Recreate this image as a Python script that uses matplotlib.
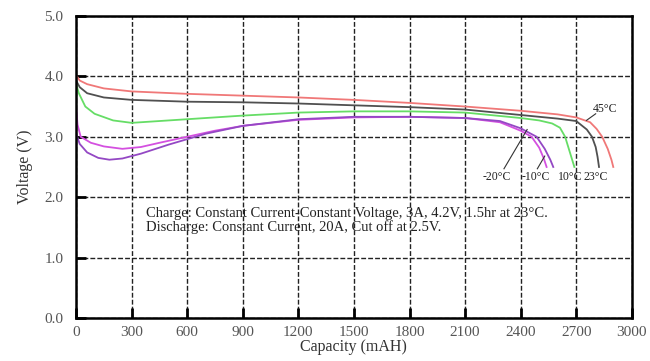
import matplotlib
matplotlib.use("Agg")
import matplotlib.pyplot as plt
import numpy as np

plt.rcParams['font.family'] = ['Liberation Serif', 'DejaVu Serif']

# discharge curves (capacity mAh, voltage V)
cap_45 = [0, 20, 60, 150, 300, 600, 900, 1200, 1500, 1800, 2100, 2400, 2600, 2700, 2775, 2810, 2840, 2870, 2890, 2900]
v_45 = [4.02, 3.93, 3.87, 3.8, 3.75, 3.71, 3.68, 3.65, 3.61, 3.56, 3.5, 3.43, 3.37, 3.32, 3.24, 3.13, 3.0, 2.8, 2.62, 2.5]

cap_23 = [0, 20, 60, 150, 300, 600, 900, 1200, 1500, 1800, 2100, 2400, 2600, 2700, 2757, 2785, 2805, 2815, 2823]
v_23 = [3.93, 3.82, 3.72, 3.65, 3.61, 3.58, 3.57, 3.55, 3.52, 3.49, 3.45, 3.36, 3.3, 3.26, 3.12, 3.0, 2.83, 2.67, 2.5]

cap_10 = [0, 15, 50, 100, 200, 300, 600, 900, 1200, 1500, 1800, 2100, 2400, 2500, 2570, 2612, 2640, 2666, 2680, 2690]
v_10 = [3.88, 3.72, 3.5, 3.38, 3.27, 3.23, 3.29, 3.35, 3.4, 3.42, 3.42, 3.4, 3.31, 3.27, 3.22, 3.15, 3.0, 2.74, 2.6, 2.5]

cap_m10 = [0, 8, 25, 80, 150, 250, 350, 450, 600, 750, 900, 1200, 1500, 1800, 2100, 2288, 2400, 2459, 2500, 2525, 2540]
v_m10 = [3.5, 3.2, 3.0, 2.9, 2.84, 2.8, 2.83, 2.9, 3.0, 3.1, 3.18, 3.28, 3.32, 3.33, 3.31, 3.24, 3.1, 3.0, 2.82, 2.64, 2.5]

cap_m20 = [0, 20, 60, 120, 180, 250, 350, 500, 700, 900, 1200, 1500, 1800, 2100, 2288, 2400, 2486, 2530, 2560, 2576]
v_m20 = [3.05, 2.88, 2.74, 2.65, 2.62, 2.64, 2.72, 2.87, 3.05, 3.18, 3.29, 3.33, 3.33, 3.31, 3.26, 3.14, 3.0, 2.8, 2.62, 2.5]

x_ticks = [0, 300, 600, 900, 1200, 1500, 1800, 2100, 2400, 2700, 3000]
y_ticks = [0.0, 1.0, 2.0, 3.0, 4.0, 5.0]

fig = plt.figure(figsize=(6.5, 3.61), dpi=100)
ax = fig.add_axes([0.117, 0.119, 0.855, 0.837])

ax.plot(cap_45, v_45, color="#f07878", lw=1.3)
ax.plot(cap_23, v_23, color="#505050", lw=1.3)
ax.plot(cap_10, v_10, color="#66dd66", lw=1.3)
ax.plot(cap_m10, v_m10, color="#d450e0", lw=1.3)
ax.plot(cap_m20, v_m20, color="#9448c4", lw=1.3)

ax.set_xlim(0, 3000)
ax.set_ylim(0, 5)
ax.set_xticks(x_ticks)
ax.set_yticks(y_ticks)
ax.set_xticklabels([str(t) for t in x_ticks])
ax.set_yticklabels(["%.1f" % t for t in y_ticks])
ax.grid(True, color="#222222", linestyle=(0, (3.5, 1.5)), lw=1.0)
ax.tick_params(direction="in", length=7, width=2, labelsize=11, labelcolor="#555555", pad=6)
ax.tick_params(axis="y", pad=9)
for s in ax.spines.values():
    s.set_linewidth(1.8)

ax.set_xlabel("Capacity (mAH)", fontsize=11.5, color="#333333", labelpad=0)
ax.set_ylabel("Voltage (V)", fontsize=11.5, color="#333333", labelpad=8)

ax.text(380, 1.73, "Charge: Constant Current-Constant Voltage, 3A, 4.2V, 1.5hr at 23\u00b0C.",
        fontsize=10.5, color="#222222", va="center")
ax.text(380, 1.51, "Discharge: Constant Current, 20A, Cut off at 2.5V.",
        fontsize=10.5, color="#222222", va="center")

# curve labels with leader lines
lab_kw = dict(fontsize=8.5, color="#222222", ha="center", va="center")
ax.text(2855, 3.46, "45\u00b0C", **lab_kw)
ax.plot([2805, 2755], [3.38, 3.27], color="#333333", lw=0.8)
ax.text(2270, 2.33, "-20\u00b0C", **lab_kw)
ax.plot([2310, 2435], [2.47, 3.12], color="#333333", lw=0.8)
ax.text(2480, 2.33, "-10\u00b0C", **lab_kw)
ax.plot([2490, 2530], [2.47, 2.68], color="#333333", lw=0.8)
ax.text(2665, 2.33, "10\u00b0C", **lab_kw)
ax.text(2805, 2.33, "23\u00b0C", **lab_kw)

fig.savefig("out.png", dpi=100, facecolor="white")
